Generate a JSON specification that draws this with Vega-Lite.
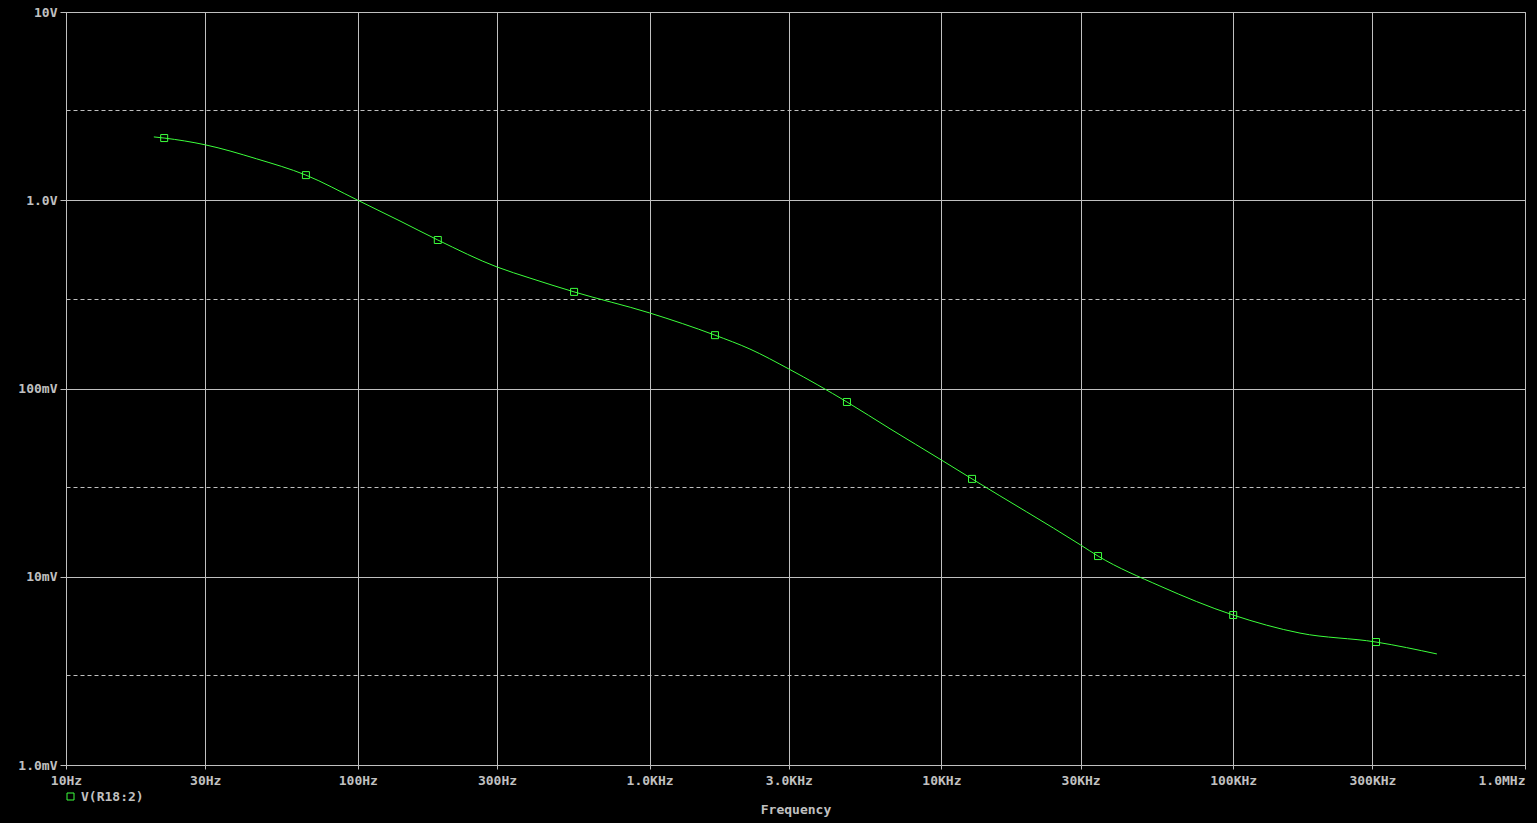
{
  "$schema": "https://vega.github.io/schema/vega-lite/v6.json",
  "width": 1459,
  "height": 753,
  "autosize": {"type": "none"},
  "padding": {"left": 66, "top": 12, "right": 12, "bottom": 58},
  "background": "#000000",
  "config": {
    "view": {"stroke": "#c0c0c0", "fill": "#000000"},
    "axis": {
      "labelFont": "DejaVu Sans Mono",
      "labelFontSize": 13,
      "labelFontWeight": "bold",
      "labelColor": "#c0c0c0",
      "titleFont": "DejaVu Sans Mono",
      "titleFontSize": 13,
      "titleFontWeight": "bold",
      "titleColor": "#c0c0c0",
      "domainColor": "#c0c0c0",
      "tickColor": "#c0c0c0",
      "gridColor": "#c0c0c0",
      "gridOpacity": 1,
      "gridWidth": 1,
      "labelOverlap": false,
      "labelFlush": false,
      "labelBound": false
    }
  },
  "data": {
    "values": [
      {"f": 20, "v": 2.17, "m": 0, "series": "V(R18:2)"},
      {"f": 21.7, "v": 2.14, "m": 1, "series": "V(R18:2)"},
      {"f": 30, "v": 1.97, "m": 0, "series": "V(R18:2)"},
      {"f": 45, "v": 1.66, "m": 0, "series": "V(R18:2)"},
      {"f": 66.4, "v": 1.36, "m": 1, "series": "V(R18:2)"},
      {"f": 100, "v": 1.0, "m": 0, "series": "V(R18:2)"},
      {"f": 139.5, "v": 0.776, "m": 0, "series": "V(R18:2)"},
      {"f": 188, "v": 0.615, "m": 1, "series": "V(R18:2)"},
      {"f": 300, "v": 0.442, "m": 0, "series": "V(R18:2)"},
      {"f": 389, "v": 0.386, "m": 0, "series": "V(R18:2)"},
      {"f": 551, "v": 0.326, "m": 1, "series": "V(R18:2)"},
      {"f": 1000, "v": 0.252, "m": 0, "series": "V(R18:2)"},
      {"f": 1675, "v": 0.192, "m": 1, "series": "V(R18:2)"},
      {"f": 2208, "v": 0.162, "m": 0, "series": "V(R18:2)"},
      {"f": 3000, "v": 0.127, "m": 0, "series": "V(R18:2)"},
      {"f": 4746, "v": 0.0848, "m": 1, "series": "V(R18:2)"},
      {"f": 6668, "v": 0.0611, "m": 0, "series": "V(R18:2)"},
      {"f": 10000, "v": 0.0417, "m": 0, "series": "V(R18:2)"},
      {"f": 12735, "v": 0.0331, "m": 1, "series": "V(R18:2)"},
      {"f": 30000, "v": 0.01475, "m": 0, "series": "V(R18:2)"},
      {"f": 34420, "v": 0.01288, "m": 1, "series": "V(R18:2)"},
      {"f": 56100, "v": 0.00893, "m": 0, "series": "V(R18:2)"},
      {"f": 100000, "v": 0.00626, "m": 1, "series": "V(R18:2)"},
      {"f": 169400, "v": 0.00502, "m": 0, "series": "V(R18:2)"},
      {"f": 308700, "v": 0.0045, "m": 1, "series": "V(R18:2)"},
      {"f": 499000, "v": 0.00389, "m": 0, "series": "V(R18:2)"}
    ]
  },
  "encoding": {
    "x": {
      "field": "f",
      "type": "quantitative",
      "scale": {"type": "log", "domain": [10, 1000000], "nice": false},
      "axis": {
        "title": "Frequency",
        "titlePadding": 16,
        "values": [10, 30, 100, 300, 1000, 3000, 10000, 30000, 100000, 300000, 1000000],
        "labelExpr": "datum.value < 20 ? '10Hz' : datum.value < 50 ? '30Hz' : datum.value < 200 ? '100Hz' : datum.value < 500 ? '300Hz' : datum.value < 2000 ? '1.0KHz' : datum.value < 5000 ? '3.0KHz' : datum.value < 20000 ? '10KHz' : datum.value < 50000 ? '30KHz' : datum.value < 200000 ? '100KHz' : datum.value < 500000 ? '300KHz' : '1.0MHz'",
        "labelAlign": {"condition": {"test": "datum.value > 500000", "value": "right"}, "value": "center"},
        "tickSize": 4,
        "labelPadding": 5,
        "grid": true
      }
    },
    "y": {
      "field": "v",
      "type": "quantitative",
      "scale": {"type": "log", "domain": [0.001, 10], "nice": false},
      "axis": {
        "title": null,
        "values": [0.001, 0.003, 0.01, 0.03, 0.1, 0.3, 1, 3, 10],
        "labelExpr": "datum.value > 5 ? '10V' : (datum.value > 0.5 && datum.value < 2) ? '1.0V' : (datum.value > 0.05 && datum.value < 0.2) ? '100mV' : (datum.value > 0.005 && datum.value < 0.02) ? '10mV' : datum.value < 0.002 ? '1.0mV' : ''",
        "tickSize": 6,
        "labelPadding": 3,
        "grid": true,
        "gridDash": {"condition": {"test": "abs(log(datum.value)/LN10 - round(log(datum.value)/LN10)) > 0.1", "value": [4, 3]}, "value": []},
        "tickColor": {"condition": {"test": "abs(log(datum.value)/LN10 - round(log(datum.value)/LN10)) > 0.1", "value": "transparent"}, "value": "#c0c0c0"}
      }
    }
  },
  "layer": [
    {
      "mark": {"type": "line", "interpolate": "monotone", "color": "#3cff3c", "strokeWidth": 1}
    },
    {
      "transform": [{"filter": "datum.m == 1"}],
      "mark": {"type": "point", "shape": "square", "filled": false, "size": 49, "strokeWidth": 1, "opacity": 1},
      "encoding": {
        "color": {
          "field": "series",
          "type": "nominal",
          "scale": {"range": ["#3cff3c"]},
          "legend": {
            "orient": "none",
            "legendX": -2,
            "legendY": 778,
            "title": null,
            "padding": 0,
            "symbolType": "square",
            "symbolSize": 49,
            "symbolStrokeWidth": 1,
            "symbolStrokeColor": "#3cff3c",
            "symbolFillColor": "transparent",
            "labelColor": "#c0c0c0",
            "labelFont": "DejaVu Sans Mono",
            "labelFontSize": 13,
            "labelFontWeight": "bold",
            "labelOffset": 4
          }
        }
      }
    }
  ]
}
